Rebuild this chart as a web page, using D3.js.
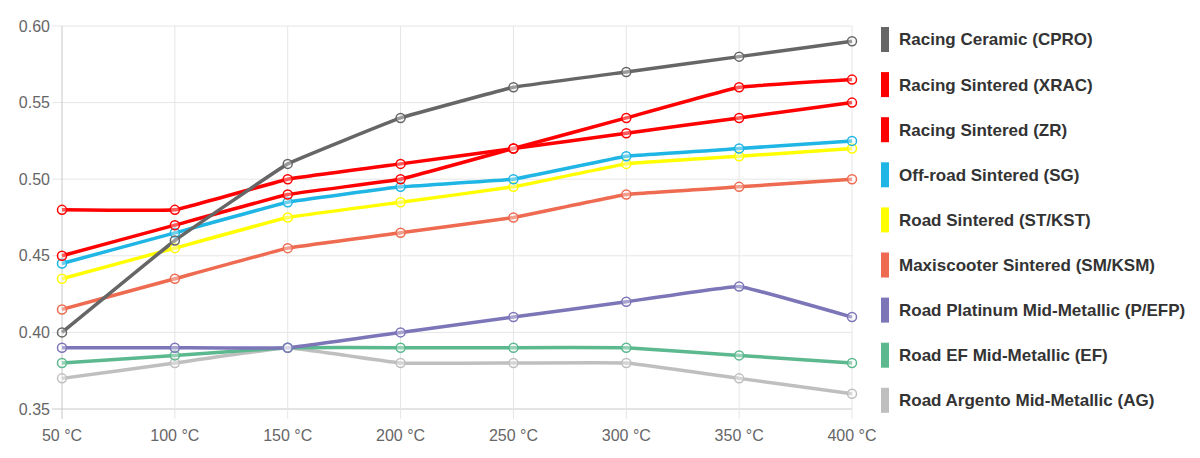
<!DOCTYPE html>
<meta charset="utf-8">
<style>
  body { margin: 0; background: #fff; }
  text { font-family: "Liberation Sans", Arial, sans-serif; }
</style>
<body>
  <script src="https://d3js.org/d3.v7.min.js"></script>
  <script>

   // data
   const temps = [50, 100, 150, 200, 250, 300, 350, 400];
   const seriesNames = [
     "Racing Ceramic (CPRO)",
     "Racing Sintered (XRAC)",
     "Racing Sintered (ZR)",
     "Off-road Sintered (SG)",
     "Road Sintered (ST/KST)",
     "Maxiscooter Sintered (SM/KSM)",
     "Road Platinum Mid-Metallic (P/EFP)",
     "Road EF Mid-Metallic (EF)",
     "Road Argento Mid-Metallic (AG)"
   ];
   const seriesColors = ["#666666", "#ff0000", "#ff0000", "#1fb5e5", "#ffff00",
                         "#ee6a50", "#7c76b9", "#5cb88e", "#bfbfbf"];
   const cpro = [0.40, 0.46, 0.51, 0.54, 0.56, 0.57, 0.58, 0.59];
   const xrac = [0.45, 0.47, 0.49, 0.50, 0.52, 0.54, 0.56, 0.565];
   const zr   = [0.48, 0.48, 0.50, 0.51, 0.52, 0.53, 0.54, 0.55];
   const sg   = [0.445, 0.465, 0.485, 0.495, 0.50, 0.515, 0.52, 0.525];
   const st   = [0.435, 0.455, 0.475, 0.485, 0.495, 0.51, 0.515, 0.52];
   const sm   = [0.415, 0.435, 0.455, 0.465, 0.475, 0.49, 0.495, 0.50];
   const pefp = [0.39, 0.39, 0.39, 0.40, 0.41, 0.42, 0.43, 0.41];
   const ef   = [0.38, 0.385, 0.39, 0.39, 0.39, 0.39, 0.385, 0.38];
   const ag   = [0.37, 0.38, 0.39, 0.38, 0.38, 0.38, 0.37, 0.36];
   const seriesValues = [cpro, xrac, zr, sg, st, sm, pefp, ef, ag];
   const yTicks = [0.35, 0.40, 0.45, 0.50, 0.55, 0.60];

   const W = 1200, H = 458;
   const margin = {top: 26, right: 348, bottom: 49, left: 62};
   const width = W - margin.left - margin.right;
   const height = H - margin.top - margin.bottom;

   const svg = d3.select("body").append("svg")
       .attr("width", W)
       .attr("height", H);
   const g = svg.append("g")
       .attr("transform", "translate(" + margin.left + "," + margin.top + ")");

   const x = d3.scalePoint().domain(temps).range([0, width]);
   const y = d3.scaleLinear().domain([0.35, 0.60]).range([height, 0]);

   // grid
   g.append("g").selectAll("line").data(yTicks).join("line")
       .attr("x1", -10).attr("x2", width)
       .attr("y1", d => y(d)).attr("y2", d => y(d))
       .attr("stroke", d => d === 0.35 ? "#c8c8c8" : "#e6e6e6");
   g.append("g").selectAll("line").data(temps).join("line")
       .attr("y1", 0).attr("y2", height + 10)
       .attr("x1", d => x(d)).attr("x2", d => x(d))
       .attr("stroke", (d, i) => i === 0 ? "#c8c8c8" : "#e6e6e6");

   // tick labels
   g.append("g").selectAll("text").data(yTicks).join("text")
       .attr("x", -12).attr("y", d => y(d))
       .attr("dy", "0.35em")
       .attr("text-anchor", "end")
       .attr("font-size", 16)
       .attr("fill", "#666")
       .text(d => d.toFixed(2));
   g.append("g").selectAll("text").data(temps).join("text")
       .attr("x", d => x(d)).attr("y", height + 32)
       .attr("text-anchor", "middle")
       .attr("font-size", 16)
       .attr("fill", "#666")
       .text(d => d + " °C");

   const line = d3.line()
       .x((d, i) => x(temps[i]))
       .y(d => y(d))
       .curve(d3.curveCardinal.tension(0.8));

   // draw from last to first so the top legend entries sit above
   const order = d3.range(seriesValues.length).reverse();
   order.forEach(k => {
     g.append("path")
       .attr("d", line(seriesValues[k]))
       .attr("fill", "none")
       .attr("stroke", seriesColors[k])
       .attr("stroke-width", 3.5);
   });
   order.forEach(k => {
     g.append("g").selectAll("circle").data(seriesValues[k]).join("circle")
       .attr("cx", (d, i) => x(temps[i]))
       .attr("cy", d => y(d))
       .attr("r", 4.5)
       .attr("fill", "rgba(255,255,255,0.35)")
       .attr("stroke", seriesColors[k])
       .attr("stroke-width", 1.5);
   });

   // legend
   const legend = svg.append("g").attr("transform", "translate(881,27)");
   const rows = legend.selectAll("g").data(seriesNames).join("g")
       .attr("transform", (d, i) => "translate(0," + (i * 45.1) + ")");
   rows.append("rect")
       .attr("width", 8).attr("height", 25)
       .attr("fill", (d, i) => seriesColors[i]);
   rows.append("text")
       .attr("x", 18).attr("y", 12.5)
       .attr("dy", "0.35em")
       .attr("font-size", 17)
       .attr("font-weight", "bold")
       .attr("fill", "#333")
       .text(d => d);

  </script>
</body>
